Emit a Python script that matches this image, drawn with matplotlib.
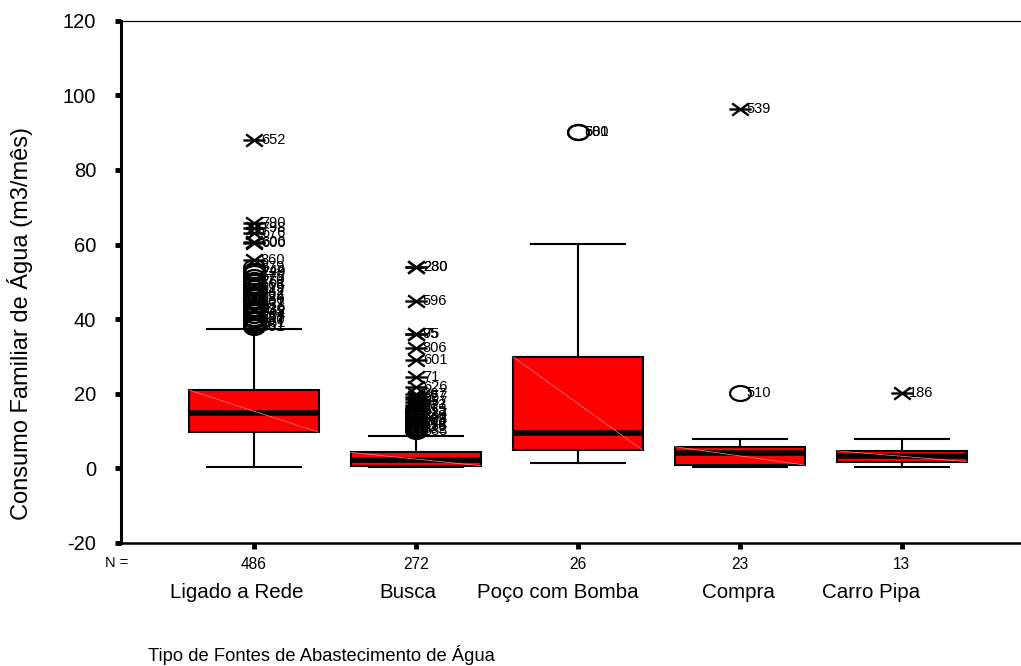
import numpy as np
import matplotlib
matplotlib.use("Agg")
import matplotlib.pyplot as plt
from matplotlib.path import Path

plt.rcParams["font.family"] = ["Liberation Sans", "DejaVu Sans"]

# ---------- Data ----------
categories = ["Ligado a Rede", "Busca", "Poço com Bomba", "Compra", "Carro Pipa"]
n_counts   = [486, 272, 26, 23, 13]

# box statistics (m3/mês)
whis_low  = [0.4, 0.4, 1.4, 0.3, 0.3]
q1_vals   = [9.7, 0.7, 4.9, 0.9, 1.8]
medians   = [14.8, 2.3, 9.4, 4.0, 3.4]
q3_vals   = [21.0, 4.3, 29.9, 5.8, 4.7]
whis_high = [37.3, 8.8, 60.1, 7.8, 7.8]

# outliers (circles) and extremes (crosses) with case numbers
outlier_vals = [
    [53.9, 53.0, 52.3, 51.4, 50.6, 50.0, 49.1, 48.3, 47.6, 46.8, 45.9, 45.2,
     44.6, 43.9, 43.1, 42.4, 41.8, 41.0, 40.4, 39.7, 39.1, 38.5, 37.9],
    [15.6, 15.1, 14.6, 14.1, 13.6, 13.1, 12.6, 12.1, 11.6, 11.1, 10.6, 10.1],
    [90.3, 90.3],
    [20.1],
    [],
]
outlier_ids = [
    ["879", "249", "729", "575", "170", "761", "568", "519", "442", "862", "324",
     "130", "401", "337", "616", "732", "845", "204", "587", "390", "661", "481", "551"],
    ["355", "813", "237", "549", "602", "388", "193", "742", "518", "826", "332", "683"],
    ["580", "601"],
    ["510"],
    [],
]
extreme_vals = [
    [87.9, 65.7, 64.4, 63.0, 60.8, 60.4, 55.9],
    [54.1, 54.1, 45.0, 36.0, 36.0, 32.2, 29.1, 24.4, 21.9, 19.9, 19.2, 18.6,
     17.8, 17.1, 16.4],
    [],
    [96.3],
    [20.1],
]
extreme_ids = [
    ["652", "790", "798", "676", "606", "600", "860"],
    ["280", "230", "596", "95", "75", "806", "601", "71", "626", "867", "657",
     "87", "657", "333", "37"],
    [],
    ["539"],
    ["186"],
]

yticks = [-20, 0, 20, 40, 60, 80, 100, 120]

# horizontal centres (pixels) of the category captions under the axis
caption_px = [237, 408, 558, 738, 871]

# ---------- Markers ----------
# open ellipse for outliers, crossed "X" for extremes
circ = Path.unit_circle()
ellipse_marker = Path(circ.vertices * np.array([1.0, 0.72]), circ.codes)
cross_marker = Path(
    [(-0.75, -0.55), (0.75, 0.55), (-0.75, 0.55), (0.75, -0.55), (-1, 0), (1, 0)],
    [Path.MOVETO, Path.LINETO, Path.MOVETO, Path.LINETO, Path.MOVETO, Path.LINETO],
)

# ---------- Figure ----------
W, H = 1021, 666
fig = plt.figure(figsize=(W / 100, H / 100), dpi=100)
ax = fig.add_axes([121 / W, 1 - 543 / H, 899 / W, 522.3 / H])

positions = np.arange(1, len(categories) + 1)
stats = []
for i in range(len(categories)):
    stats.append(dict(med=medians[i], q1=q1_vals[i], q3=q3_vals[i],
                      whislo=whis_low[i], whishi=whis_high[i], fliers=[]))

box_w = 0.8
ax.bxp(stats, positions=positions, widths=box_w, capwidths=0.58,
       showfliers=False, patch_artist=True,
       boxprops=dict(facecolor="#ff0000", edgecolor="black", linewidth=1.5),
       medianprops=dict(color="black", linewidth=4.0, solid_capstyle="butt"),
       whiskerprops=dict(color="black", linewidth=1.5),
       capprops=dict(color="black", linewidth=1.5))

# faint diagonal across each box
for p, lo, hi in zip(positions, q1_vals, q3_vals):
    ax.plot([p - box_w / 2, p + box_w / 2], [hi, lo], color="#ff8a8a",
            linewidth=0.5, zorder=2.5)

for p, vals, ids in zip(positions, outlier_vals, outlier_ids):
    if vals:
        ax.plot([p] * len(vals), vals, linestyle="none", marker=ellipse_marker,
                markersize=15, markerfacecolor="none", markeredgecolor="black",
                markeredgewidth=1.6, zorder=4)
    for v, t in zip(vals, ids):
        ax.annotate(t, (p, v), xytext=(5, 0), textcoords="offset points",
                    ha="left", va="center", fontsize=10.5, zorder=5)

for p, vals, ids in zip(positions, extreme_vals, extreme_ids):
    if vals:
        ax.plot([p] * len(vals), vals, linestyle="none", marker=cross_marker,
                markersize=16, markerfacecolor="none", markeredgecolor="black",
                markeredgewidth=1.7, zorder=4)
    for v, t in zip(vals, ids):
        ax.annotate(t, (p, v), xytext=(5, 0), textcoords="offset points",
                    ha="left", va="center", fontsize=10.5, zorder=5)

# ---------- Axes styling ----------
ax.set_xlim(0.18, 5.73)
ax.set_ylim(-20, 120)
ax.set_yticks(yticks)
ax.set_yticklabels([str(v) for v in yticks], fontsize=14.5)
ax.set_xticks(positions)
ax.set_xticklabels([str(n) for n in n_counts], fontsize=11.2)
ax.tick_params(axis="both", direction="out", length=4, width=3.5, colors="black")
ax.tick_params(axis="y", pad=14)
ax.tick_params(axis="x", pad=6)

ax.spines["right"].set_visible(False)
ax.spines["left"].set_linewidth(2.2)
ax.spines["bottom"].set_linewidth(1.8)
ax.spines["top"].set_linewidth(0.9)

for px, name in zip(caption_px, categories):
    fig.text(px / W, 1 - 592 / H, name, ha="center", va="center", fontsize=14.8)

fig.text(105 / W, 1 - 563 / H, "N =", ha="left", va="center", fontsize=10.5)
fig.text(148 / W, 1 - 655 / H, "Tipo de Fontes de Abastecimento de Água",
         ha="left", va="center", fontsize=13.2)
fig.text(20 / W, 1 - 323 / H, "Consumo Familiar de Água (m3/mês)",
         ha="center", va="center", rotation=90, fontsize=17)

fig.savefig("out.png", dpi=100)
